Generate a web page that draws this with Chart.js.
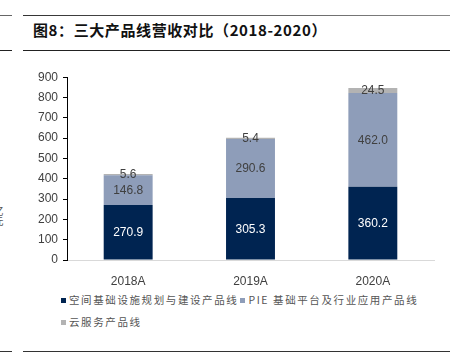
<!DOCTYPE html>
<html><head><meta charset="utf-8">
<script src="https://cdn.jsdelivr.net/npm/chart.js@4"></script>
<style>
html,body{margin:0;padding:0;background:#fff;width:462px;height:357px;overflow:hidden;position:relative;font-family:"Liberation Sans",Arial,sans-serif;}
.ln{position:absolute;height:1px;}
#title{position:absolute;left:33px;top:21px;font-family:"Noto Sans CJK SC";font-weight:bold;font-size:15px;letter-spacing:0.6px;color:#111;line-height:18px;white-space:nowrap;}
#wrap{position:absolute;left:0;top:65px;width:462px;height:220px;}
#legend{position:absolute;left:61px;top:289px;width:395px;font-family:"Noto Sans CJK SC";font-size:10.5px;color:#555;letter-spacing:1.6px;line-height:22px;}
#legend span.it{white-space:nowrap;margin-right:2px;}
#legend i{display:inline-block;width:5px;height:5px;margin-right:3px;vertical-align:1px;}
#ytitle{position:absolute;left:-9px;top:206px;font-family:"Noto Sans CJK SC";font-size:10px;color:#555;writing-mode:vertical-rl;}
</style></head><body>
<div class="ln" style="left:0;top:15px;width:12px;background:#666"></div>
<div class="ln" style="left:23px;top:15px;width:427px;background:linear-gradient(90deg,#333,#888)"></div>
<div id="title">图8：三大产品线营收对比（2018-2020）</div>
<div class="ln" style="left:0;top:50px;width:12px;background:#222"></div>
<div class="ln" style="left:23px;top:50px;width:427px;background:#222"></div>
<div id="ytitle">亿元</div>
<div id="wrap"><canvas id="c"></canvas></div>
<div id="legend"></div>
<div class="ln" style="left:0;top:351px;width:12px;background:#333"></div>
<div class="ln" style="left:23px;top:351px;width:427px;background:#333"></div>
<script>
const categories = ["2018A","2019A","2020A"];
const seriesNames = ["空间基础设施规划与建设产品线","PIE 基础平台及行业应用产品线","云服务产品线"];
const spatialInfra = [270.9, 305.3, 360.2];
const piePlatform = [146.8, 290.6, 462.0];
const cloudService = [5.6, 5.4, 24.5];
const yTicks = [0,100,200,300,400,500,600,700,800,900];
const colors = ["#002451","#8E9DB9","#B3B3B3"];
const labelColors = ["#ffffff","#404040","#404040"];
const seriesData = [spatialInfra, piePlatform, cloudService];

const labelPlugin = {
  id:'barLabels',
  afterDatasetsDraw(chart){
    const ctx = chart.ctx;
    ctx.save();
    ctx.font = '12px "Liberation Sans", Arial, sans-serif';
    ctx.textAlign='center'; ctx.textBaseline='middle';
    chart.data.datasets.forEach((ds,i)=>{
      chart.getDatasetMeta(i).data.forEach((el,j)=>{
        const v = ds.data[j];
        ctx.fillStyle = labelColors[i];
        ctx.fillText(v.toFixed(1), el.x, (el.y+el.base)/2+0.5);
      });
    });
    ctx.restore();
  }
};

new Chart(document.getElementById('c'),{
  type:'bar',
  data:{labels:categories,datasets:seriesData.map((d,i)=>({label:seriesNames[i],data:d,backgroundColor:colors[i],borderWidth:0,categoryPercentage:1,barPercentage:0.4}))},
  options:{
    responsive:true,maintainAspectRatio:false,animation:false,
    layout:{padding:{top:4,right:28,left:0,bottom:0}},
    plugins:{legend:{display:false},tooltip:{enabled:false}},
    scales:{
      x:{stacked:true,grid:{display:false},border:{display:true,color:'#d9d9d9',width:1},
         ticks:{color:'#404040',font:{size:12,family:'"Liberation Sans", Arial'},padding:6},
         afterFit(s){s.height=25;}},
      y:{stacked:true,min:0,max:900,
         afterBuildTicks(s){s.ticks=yTicks.map(v=>({value:v}));},
         grid:{display:true,drawOnChartArea:false,drawTicks:true,tickLength:4,color:'#000'},
         border:{display:true,color:'#000',width:1},
         ticks:{color:'#404040',font:{size:12,family:'"Liberation Sans", Arial'},padding:5},
         afterFit(s){s.width=67;}}
    }
  },
  plugins:[labelPlugin]
});

const lg = document.getElementById('legend');
seriesNames.forEach((n,i)=>{
  const s=document.createElement('span'); s.className='it';
  s.innerHTML='<i style="background:'+colors[i]+'"></i>'+n;
  lg.appendChild(s);
  if(i===1) lg.appendChild(document.createElement('br'));
});
</script>
</body></html>
